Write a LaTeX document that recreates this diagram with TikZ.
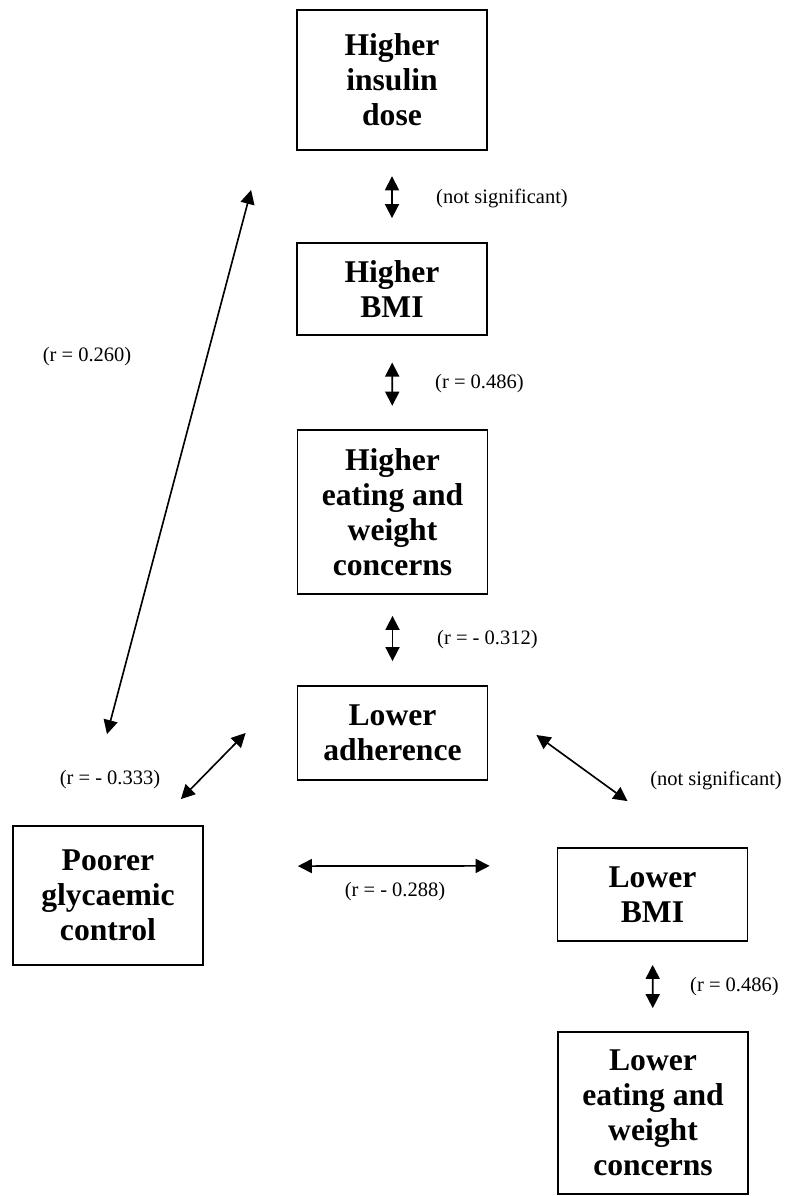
\documentclass[tikz,border=0pt]{standalone}
\usepackage{fontspec}
\setmainfont{Liberation Serif}
\usetikzlibrary{arrows.meta,calc}

\begin{document}
\begin{tikzpicture}[x=0.3mm,y=-0.3mm]
    \tikzstyle{box}=[draw,line width=1.5pt,align=center,inner sep=0pt,minimum width=57mm,font=\fontsize{27}{30}\selectfont\bfseries]
    \tikzstyle{corr}=[font=\fontsize{17.5}{20}\selectfont,inner sep=0pt]
    \tikzstyle{link}=[line width=1.4pt,{Triangle[length=12pt,width=12pt]}-{Triangle[length=12pt,width=12pt]}]
    \useasboundingbox (0,0) rectangle (790,1196);
    % boxes
    \node[box,minimum height=42mm] (ins) at (392,80) {Higher\\insulin\\dose};
    \node[box,minimum height=27.6mm] (hbmi) at (392,289) {Higher\\BMI};
    \node[box,minimum height=49.2mm] (heat) at (392.5,512) {Higher\\eating and\\weight\\concerns};
    \node[box,minimum height=28.2mm] (adh) at (392.5,733) {Lower\\adherence};
    \node[box,minimum height=41.7mm] (poorer) at (108,895.5) {Poorer\\glycaemic\\control};
    \node[box,minimum height=27.9mm] (lbmi) at (652.5,894.5) {Lower\\BMI};
    \node[box,minimum height=48.6mm] (leat) at (653,1113) {Lower\\eating and\\weight\\concerns};
    % connectors
    \draw[link,shorten <=7.6mm,shorten >=7.2mm] (ins) -- (hbmi);
    \draw[link,shorten <=8mm,shorten >=7mm] (hbmi) -- (heat);
    \draw[link,shorten <=6.3mm,shorten >=7.2mm] (heat) -- (adh);
    \draw[link,shorten <=6.9mm,shorten >=6.9mm] (lbmi) -- (leat);
    \draw[link,shorten <=28.2mm,shorten >=20.1mm] ([yshift=8.8mm]poorer.east) -- ([yshift=8.6mm]lbmi.west);
    \draw[link] ($(adh.west)+(-51,0)$) -- ($(poorer.north east)+(-23,-26)$);
    \draw[link] ($(adh.east)+(48,2)$) -- ($(lbmi.north)+(-25,-46)$);
    \draw[link] ($(poorer.north)+(-1,-91)$) -- ($(ins.west)+(-45,110)$);
    % correlations
    \node[corr,anchor=west] (c1) at (436,198) {(not significant)};
    \node[corr,anchor=west] (c2) at (435,384) {(r = 0.486)};
    \node[corr] (c3) at (87,357) {(r = 0.260)};
    \node[corr,anchor=west] (c4) at (437,640) {(r = - 0.312)};
    \node[corr] (c5) at (110,780) {(r = - 0.333)};
    \node[corr] (c6) at (716,780) {(not significant)};
    \node[corr] (c7) at (395,892) {(r = - 0.288)};
    \node[corr,anchor=west] (c8) at (690,987) {(r = 0.486)};
\end{tikzpicture}
\end{document}
